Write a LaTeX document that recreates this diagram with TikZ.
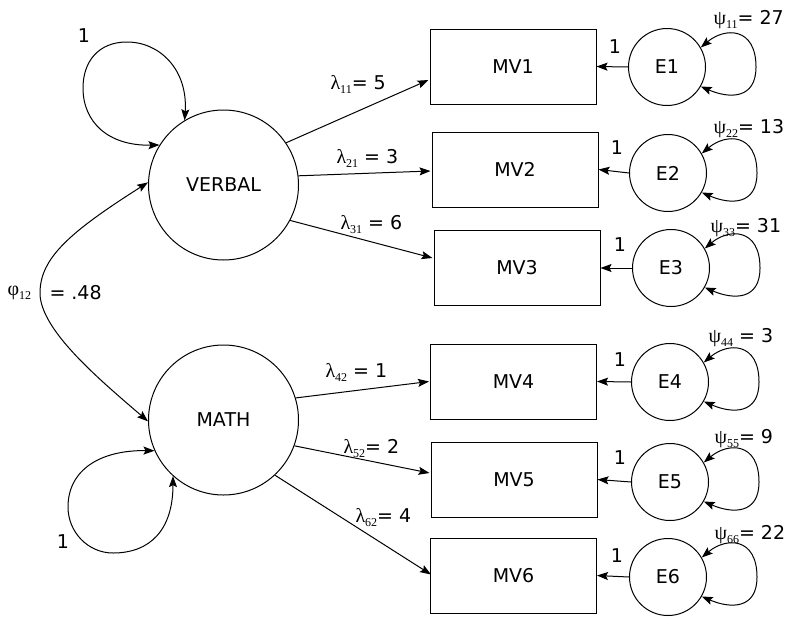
\documentclass[tikz,border=0pt]{standalone}
\usepackage{fontspec}
\setmainfont{DejaVu Sans}
\newfontfamily\grk{Liberation Serif}
\usetikzlibrary{arrows.meta,calc}
\newcommand\glab[3]{{\grk\fontsize{20}{20}\selectfont #1}\raisebox{-4pt}{\fontsize{12}{12}\selectfont\grk #2}#3}
\newcommand\eloop[1]{\draw[darr] (#1.30) .. controls ($(#1)+(58,-40)$) and ($(#1)+(89,-40)$) .. ($(#1)+(89,0)$) .. controls ($(#1)+(89,32)$) and ($(#1)+(63,32)$) .. (#1.-30);}
\begin{document}
\begin{tikzpicture}[x=1pt,y=-1pt,line width=1pt,
  every node/.style={font=\fontsize{19}{21}\selectfont},
  latent/.style={draw,circle,minimum size=150pt,inner sep=0pt},
  err/.style={draw,circle,minimum size=77pt,inner sep=0pt},
  obs/.style={draw,rectangle,minimum width=166pt,minimum height=75pt,inner sep=0pt},
  arr/.style={-{Stealth[length=11pt,width=8pt,inset=2pt]}},
  darr/.style={{Stealth[length=11pt,width=8pt,inset=2pt]}-{Stealth[length=11pt,width=8pt,inset=2pt]}},
  lbl/.style={inner sep=0pt,anchor=base west},
  one/.style={inner sep=0pt}]
\useasboundingbox (0,0) rectangle (786,616);
% latent variables
\node[latent] (VERBAL) at (223.5,185) {VERBAL};
\node[latent] (MATH) at (223.5,420) {MATH};
% manifest variables
\node[obs] (MV1) at (513,66.5) {MV1};
\node[obs] (MV2) at (515,169.5) {MV2};
\node[obs] (MV3) at (517,268) {MV3};
\node[obs] (MV4) at (513.5,381.5) {MV4};
\node[obs] (MV5) at (514,479.5) {MV5};
\node[obs] (MV6) at (513.5,575.5) {MV6};
% errors
\node[err] (E1) at (667,67) {E1};
\node[err] (E2) at (668,173) {E2};
\node[err] (E3) at (671,268) {E3};
\node[err] (E4) at (670,382) {E4};
\node[err] (E5) at (670,482) {E5};
\node[err] (E6) at (668,577) {E6};
% loadings
\draw[arr] (VERBAL.34) -- ($(MV1.west)+(-1,13.5)$);
\draw[arr] (VERBAL.7) -- ($(MV2.west)+(-1,1.5)$);
\draw[arr] (VERBAL.-28.5) -- ($(MV3.west)+(-1,-10)$);
\draw[arr] (MATH.17) -- ($(MV4.west)+(-1,0)$);
\draw[arr] (MATH.-20.6) -- ($(MV5.west)+(-1,-6.5)$);
\draw[arr] (MATH.-47.6) -- ($(MV6.west)+(1,-1)$);
% error paths
\draw[arr] (E1.west) -- (MV1.east);
\draw[arr] (E2.west) -- (MV2.east);
\draw[arr] (E3.west) -- (MV3.east);
\draw[arr] (E4.west) -- (MV4.east);
\draw[arr] (E5.west) -- (MV5.east);
\draw[arr] (E6.west) -- (MV6.east);
% error variances
\eloop{E1}\eloop{E2}\eloop{E3}\eloop{E4}\eloop{E5}\eloop{E6}
% latent variances
\draw[darr] (VERBAL.121) .. controls (188,70) and (160,42) .. (127,42) .. controls (98,42) and (83,62) .. (83,88) .. controls (83,122) and (108,146) .. (VERBAL.148);
\draw[darr] (MATH.204) .. controls (100,450) and (68,470) .. (68,507) .. controls (68,532) and (88,553) .. (113,553) .. controls (150,553) and (173,530) .. (MATH.228);
% covariance
\draw[darr] (VERBAL.178) .. controls (70,232) and (40,258) .. (40,293) .. controls (40,330) and (100,380) .. (MATH.181);
% labels
\node[one] (v1) at (84,35.5) {1};
\node[one] (m1) at (63,541.5) {1};
\node[lbl] (phi) at (7,295) {\glab{φ}{12}{}};
\node[lbl] (phiv) at (49,299.5) {= .48};
\node[lbl] (l11) at (330,89) {\glab{λ}{11}{= 5}};
\node[lbl] (l21) at (336,163) {\glab{λ}{21}{ = 3}};
\node[lbl] (l31) at (340,229) {\glab{λ}{31}{ = 6}};
\node[lbl] (l42) at (325,377) {\glab{λ}{42}{ = 1}};
\node[lbl] (l52) at (343,453) {\glab{λ}{52}{= 2}};
\node[lbl] (l62) at (355,522) {\glab{λ}{62}{= 4}};
\node[lbl] (p11) at (713,24) {\glab{ψ}{11}{= 27}};
\node[lbl] (p22) at (713,133) {\glab{ψ}{22}{= 13}};
\node[lbl] (p33) at (710,232) {\glab{ψ}{33}{= 31}};
\node[lbl] (p44) at (708,342) {\glab{ψ}{44}{ = 3}};
\node[lbl] (p55) at (714,443) {\glab{ψ}{55}{= 9}};
\node[lbl] (p66) at (714,539) {\glab{ψ}{66}{= 22}};
\node[one] (o1) at (615,46.5) {1};
\node[one] (o2) at (617,148) {1};
\node[one] (o3) at (620,245) {1};
\node[one] (o4) at (620,360) {1};
\node[one] (o5) at (620,458) {1};
\node[one] (o6) at (617,556) {1};
\end{tikzpicture}
\end{document}
